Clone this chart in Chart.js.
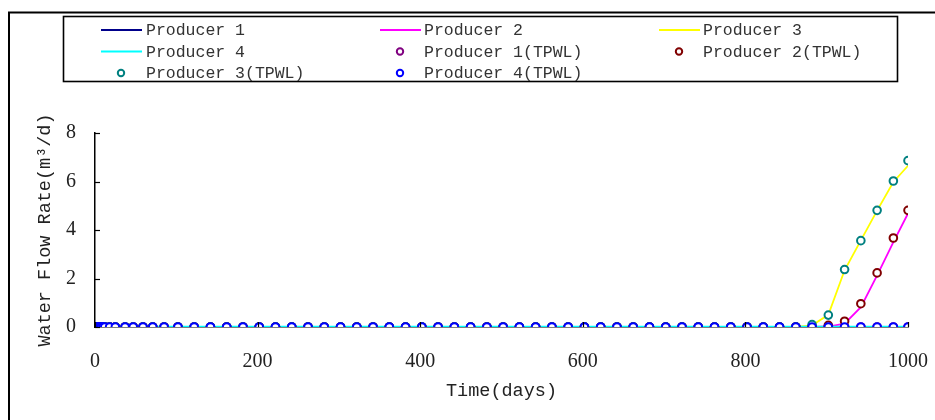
<!DOCTYPE html>
<html><head><meta charset="utf-8">
<script src="https://cdn.jsdelivr.net/npm/chart.js@4.4.0/dist/chart.umd.min.js"></script>
<style>html,body{margin:0;padding:0;background:#fff;}</style>
</head><body>
<canvas id="c" width="935" height="420"></canvas>
<script>
// ---- data ----
const timeDays = [0,1,2,3,4,5,6,8,10,12,18,25,37,47,59,71,85,102,122,142,162,182,202,222,242,262,282,302,322,342,362,382,402,422,442,462,482,502,522,542,562,582,602,622,642,662,682,702,722,742,762,782,802,822,842,862,882,902,922,942,962,982,1000];
const producer1 = [0,0,0,0,0,0,0,0,0,0,0,0,0,0,0,0,0,0,0,0,0,0,0,0,0,0,0,0,0,0,0,0,0,0,0,0,0,0,0,0,0,0,0,0,0,0,0,0,0,0,0,0,0,0,0,0,0,0,0,0,0,0,0];
const producer2 = [0,0,0,0,0,0,0,0,0,0,0,0,0,0,0,0,0,0,0,0,0,0,0,0,0,0,0,0,0,0,0,0,0,0,0,0,0,0,0,0,0,0,0,0,0,0,0,0,0,0,0,0,0,0,0,0,0,0.02,0.14,0.82,2.13,3.5,4.68];
const producer3 = [0,0,0,0,0,0,0,0,0,0,0,0,0,0,0,0,0,0,0,0,0,0,0,0,0,0,0,0,0,0,0,0,0,0,0,0,0,0,0,0,0,0,0,0,0,0,0,0,0,0,0,0,0,0,0,0,0.07,0.5,2.34,3.57,4.8,5.98,6.65];
const producer4 = [0,0,0,0,0,0,0,0,0,0,0,0,0,0,0,0,0,0,0,0,0,0,0,0,0,0,0,0,0,0,0,0,0,0,0,0,0,0,0,0,0,0,0,0,0,0,0,0,0,0,0,0,0,0,0,0,0,0,0,0,0,0,0];
const producer1Tpwl = [0,0,0,0,0,0,0,0,0,0,0,0,0,0,0,0,0,0,0,0,0,0,0,0,0,0,0,0,0,0,0,0,0,0,0,0,0,0,0,0,0,0,0,0,0,0,0,0,0,0,0,0,0,0,0,0,0,0,0,0,0,0,0];
const producer2Tpwl = [0,0,0,0,0,0,0,0,0,0,0,0,0,0,0,0,0,0,0,0,0,0,0,0,0,0,0,0,0,0,0,0,0,0,0,0,0,0,0,0,0,0,0,0,0,0,0,0,0,0,0,0,0,0,0,0,0,0.07,0.24,0.96,2.23,3.67,4.81];
const producer3Tpwl = [0,0,0,0,0,0,0,0,0,0,0,0,0,0,0,0,0,0,0,0,0,0,0,0,0,0,0,0,0,0,0,0,0,0,0,0,0,0,0,0,0,0,0,0,0,0,0,0,0,0,0,0,0,0,0,0,0.1,0.49,2.37,3.56,4.81,6.02,6.86];
const producer4Tpwl = [0,0,0,0,0,0,0,0,0,0,0,0,0,0,0,0,0,0,0,0,0,0,0,0,0,0,0,0,0,0,0,0,0,0,0,0,0,0,0,0,0,0,0,0,0,0,0,0,0,0,0,0,0,0,0,0,0,0,0,0,0,0,0];
const seriesNames = ['Producer 1','Producer 2','Producer 3','Producer 4','Producer 1(TPWL)','Producer 2(TPWL)','Producer 3(TPWL)','Producer 4(TPWL)'];
const xTickValues = [0,200,400,600,800,1000];
const yTickValues = [0,2,4,6,8];
const xTitle = 'Time(days)';
const yTitle = 'Water Flow Rate(m³/d)';

// ---- styles ----
const colors = ['#00008B','#FF00FF','#FFFF00','#00FFFF','#800080','#800000','#008080','#0000FF'];
const lineWidths = [1.8,1.8,1.8,2.6];
const seriesValues = [producer1,producer2,producer3,producer4,producer1Tpwl,producer2Tpwl,producer3Tpwl,producer4Tpwl];
const drawOrder = [8,7,6,5,4,3,2,1];

const datasets = seriesNames.map((name,i)=>{
  const pts = timeDays.map((t,k)=>({x:t,y:seriesValues[i][k]}));
  const isMarker = i>=4;
  return {
    label:name, data:pts, order:drawOrder[i],
    borderColor:colors[i], backgroundColor:isMarker?'#ffffff':colors[i],
    showLine:!isMarker, borderWidth:isMarker?0:lineWidths[i], tension:0,
    pointRadius:isMarker?3.8:0, pointBorderWidth:2, pointBorderColor:colors[i],
    pointBackgroundColor:'#ffffff', pointStyle:'circle'
  };
});

const framePlugin = {
  id:'frame',
  beforeDraw(chart){
    const ctx=chart.ctx;
    ctx.save();
    ctx.fillStyle='#fff'; ctx.fillRect(0,0,chart.width,chart.height);
    ctx.strokeStyle='#000'; ctx.lineWidth=2;
    ctx.strokeRect(9,12.5,1000,1000);
    ctx.restore();
  },
  afterDraw(chart){
    const ctx=chart.ctx;
    ctx.save();
    const xs=chart.scales.x, ys=chart.scales.y, ca=chart.chartArea;
    ctx.strokeStyle='#000'; ctx.lineWidth=1.2;
    xTickValues.forEach(v=>{const p=Math.round(xs.getPixelForValue(v))+0.5;ctx.beginPath();ctx.moveTo(p,ca.bottom);ctx.lineTo(p,ca.bottom-5);ctx.stroke();});
    yTickValues.forEach(v=>{const p=Math.round(ys.getPixelForValue(v))+0.5;ctx.beginPath();ctx.moveTo(ca.left,p);ctx.lineTo(ca.left+5,p);ctx.stroke();});
    ctx.lineWidth=1.6; ctx.strokeStyle='#000';
    ctx.strokeRect(63.5,16.5,834,65);
    const colLine=[101,380,659], colText=[146,424,703], rows=[30,51.5,73];
    ctx.font='16.5px "Liberation Mono"'; ctx.textBaseline='middle';
    seriesNames.forEach((name,i)=>{
      const c=i%3, r=Math.floor(i/3);
      const y=rows[r];
      if(i<4){
        ctx.strokeStyle=colors[i]; ctx.lineWidth=1.8;
        ctx.beginPath(); ctx.moveTo(colLine[c],y); ctx.lineTo(colLine[c]+41,y); ctx.stroke();
      } else {
        ctx.strokeStyle=colors[i]; ctx.lineWidth=2;
        ctx.beginPath(); ctx.arc(colLine[c]+20,y,3.2,0,Math.PI*2); ctx.stroke();
      }
      ctx.fillStyle='#333';
      ctx.fillText(name,colText[c],y+1);
    });
    ctx.restore();
  }
};

new Chart(document.getElementById('c'),{
  type:'scatter',
  data:{datasets},
  options:{
    responsive:false, animation:false, devicePixelRatio:1,
    layout:{padding:{top:133,right:27,left:0,bottom:0}},
    plugins:{legend:{display:false},tooltip:{enabled:false}},
    scales:{
      x:{type:'linear',min:0,max:1000,
        afterBuildTicks:(s)=>{s.ticks=xTickValues.map(v=>({value:v}));},
        afterFit:(s)=>{s.height=93;s.paddingLeft=0;s.paddingRight=0;},
        grid:{display:false,drawTicks:false},
        border:{display:true,color:'#000',width:1.5},
        ticks:{padding:23,color:'#222',font:{family:'"Liberation Serif"',size:20},maxRotation:0,callback:(v)=>String(v)},
        title:{display:true,text:xTitle,color:'#222',font:{family:'"Liberation Mono"',size:18.5},padding:{top:4,bottom:18}}
      },
      y:{type:'linear',min:0,max:8,
        afterBuildTicks:(s)=>{s.ticks=yTickValues.map(v=>({value:v}));},
        afterFit:(s)=>{s.width=95;s.paddingTop=0;s.paddingBottom=0;},
        grid:{display:false,drawTicks:false},
        border:{display:true,color:'#000',width:1.5},
        ticks:{padding:19,color:'#222',font:{family:'"Liberation Serif"',size:20},callback:(v)=>String(v)},
        title:{display:true,text:yTitle,color:'#222',font:{family:'"Liberation Mono"',size:18.5},padding:{top:34,bottom:0}}
      }
    }
  },
  plugins:[framePlugin]
});
</script>
</body></html>
